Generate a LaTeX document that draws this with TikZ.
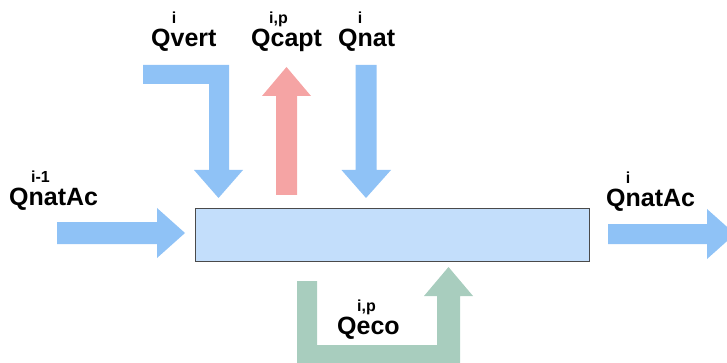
\documentclass[tikz,border=0pt]{standalone}
\usepackage{fontspec}
\setmainfont{Liberation Sans}
\definecolor{arrblue}{HTML}{8FC2F6}
\definecolor{arrred}{HTML}{F5A4A4}
\definecolor{arrgreen}{HTML}{A8CDBE}
\definecolor{boxfill}{HTML}{C3DEFB}
\definecolor{boxline}{HTML}{4A4A4A}
\tikzset{
  lbl/.style={anchor=base west, inner sep=0pt, font=\fontsize{25}{25}\selectfont\bfseries},
  sup/.style={anchor=base west, inner sep=0pt, font=\fontsize{16}{16}\selectfont\bfseries},
  supc/.style={anchor=base, inner sep=0pt, font=\fontsize{16}{16}\selectfont\bfseries},
}
\begin{document}
\begin{tikzpicture}[x=1pt,y=-1pt]
\useasboundingbox (0,0) rectangle (727,363);
\clip (0,0) rectangle (727,363);
% main box
\node[draw=boxline, fill=boxfill, line width=1.5pt, minimum width=394pt, minimum height=52.5pt, inner sep=0pt, anchor=north west] (box) at (194.5,208) {};
% Qvert arrow
\fill[arrblue] (143,65) -- (229,65) -- (229,170) -- (243,170) -- (218.5,198) -- (194,170) -- (209,170) -- (209,84) -- (143,84) -- cycle;
% Qcapt arrow
\fill[arrred] (276,195) -- (276,96) -- (262,96) -- (286.5,67) -- (311,96) -- (297,96) -- (297,195) -- cycle;
% Qnat arrow
\fill[arrblue] (355.5,65) -- (376.5,65) -- (376.5,170) -- (391,170) -- (366,198) -- (341.5,170) -- (355.5,170) -- cycle;
% left input arrow
\fill[arrblue] (57,222) -- (157,222) -- (157,208) -- (185,233) -- (157,258) -- (157,244) -- (57,244) -- cycle;
% right output arrow
\fill[arrblue] (608,224) -- (707,224) -- (707,209) -- (735,234) -- (707,259) -- (707,244) -- (608,244) -- cycle;
% Qeco arrow
\fill[arrgreen] (297,281) -- (317,281) -- (317,345) -- (437,345) -- (437,296) -- (424,296) -- (448.5,267) -- (473,296) -- (460,296) -- (460,370) -- (297,370) -- cycle;
% labels
\node[lbl] (qvert) at (151,47) {Qvert};
\node[supc] (qverts) at (174,24) {i};
\node[lbl] (qcapt) at (251,47) {Qcapt};
\node[sup] (qcapts) at (269,24) {i,p};
\node[lbl] (qnat) at (338,47) {Qnat};
\node[supc] (qnats) at (360,24) {i};
\node[lbl] (qin) at (9,206) {QnatAc};
\node[sup] (qins) at (31,183) {i-1};
\node[lbl] (qout) at (606,207) {QnatAc};
\node[supc] (qouts) at (628,184) {i};
\node[lbl] (qeco) at (337,334) {Qeco};
\node[sup] (qecos) at (357,311) {i,p};
\end{tikzpicture}
\end{document}
